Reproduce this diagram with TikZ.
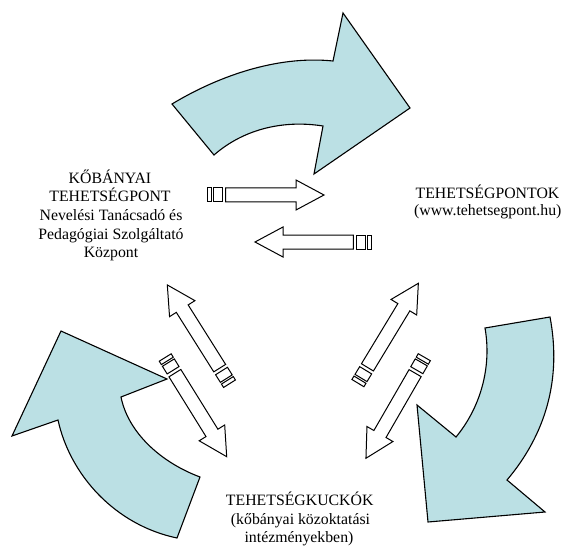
\documentclass[tikz,border=0pt]{standalone}
\usepackage{fontspec}
\setmainfont{Liberation Serif}
\definecolor{bigfill}{RGB}{187,224,228}
\tikzset{
  txt/.style={font=\fontsize{15.8bp}{18.8bp}\selectfont, inner sep=0pt, anchor=base},
  bigarrow/.style={draw=black, fill=bigfill, line width=1.1bp, line join=miter},
  smallarrow/.style={draw=black, fill=white, line width=1bp, line join=miter},
  stripedarrow/.pic={
    \draw[smallarrow] (0,-7) rectangle (4,7);
    \draw[smallarrow] (6,-7) rectangle (15,7);
    \draw[smallarrow] (18.4,-7) -- (88.7,-7) -- (88.7,-15) -- (116.7,0)
       -- (88.7,15) -- (88.7,7) -- (18.4,7) -- cycle;
  }
}
\begin{document}
\begin{tikzpicture}[x=1bp,y=-1bp]
\useasboundingbox (0,0) rectangle (563,548);

% top curved arrow
\draw[bigarrow] (172,104) .. controls (215,78) and (275,55) .. (333,61)
  -- (343,13) -- (410,108) -- (314,174) -- (323,126)
  .. controls (285,120) and (245,128) .. (214,155) -- cycle;

% left curved arrow
\draw[bigarrow] (61,331) -- (167,379) -- (121,397)
  .. controls (128,432) and (160,462) .. (200,477)
  -- (177,538)
  .. controls (115,525) and (70,475) .. (58,420)
  -- (12,436) -- cycle;

% right curved arrow
\draw[bigarrow] (485,328) -- (550,317)
  .. controls (562,380) and (545,435) .. (507,480)
  -- (545,512) -- (428,522) -- (417,405) -- (456,437)
  .. controls (480,408) and (492,368) .. (485,328) -- cycle;

% striped arrows
\pic at (207.3,195) {stripedarrow};
\pic[rotate=180] at (371.7,242) {stripedarrow};
\pic[rotate=122.2] at (229.5,383.7) {stripedarrow};
\pic[rotate=-58.2] at (165.2,357.5) {stripedarrow};
\pic[rotate=58.8] at (357.9,383.1) {stripedarrow};
\pic[rotate=-120] at (424.3,357.2) {stripedarrow};

% texts
\node[txt] (k1) at (110,183.3) {KŐBÁNYAI};
\node[txt] (k2) at (110,201.7) {TEHETSÉGPONT};
\node[txt] (k3) at (111,220.7) {Nevelési Tanácsadó és};
\node[txt] (k4) at (111,239.5) {Pedagógiai Szolgáltató};
\node[txt] (k5) at (111,257) {Központ};

\node[txt] (t1) at (487.5,199) {TEHETSÉGPONTOK};
\node[txt] (t2) at (487.8,216) {(www.tehetsegpont.hu)};

\node[txt] (u1) at (299.7,505) {TEHETSÉGKUCKÓK};
\node[txt] (u2) at (300.5,524) {(kőbányai közoktatási};
\node[txt] (u3) at (299,542) {intézményekben)};
\end{tikzpicture}
\end{document}
